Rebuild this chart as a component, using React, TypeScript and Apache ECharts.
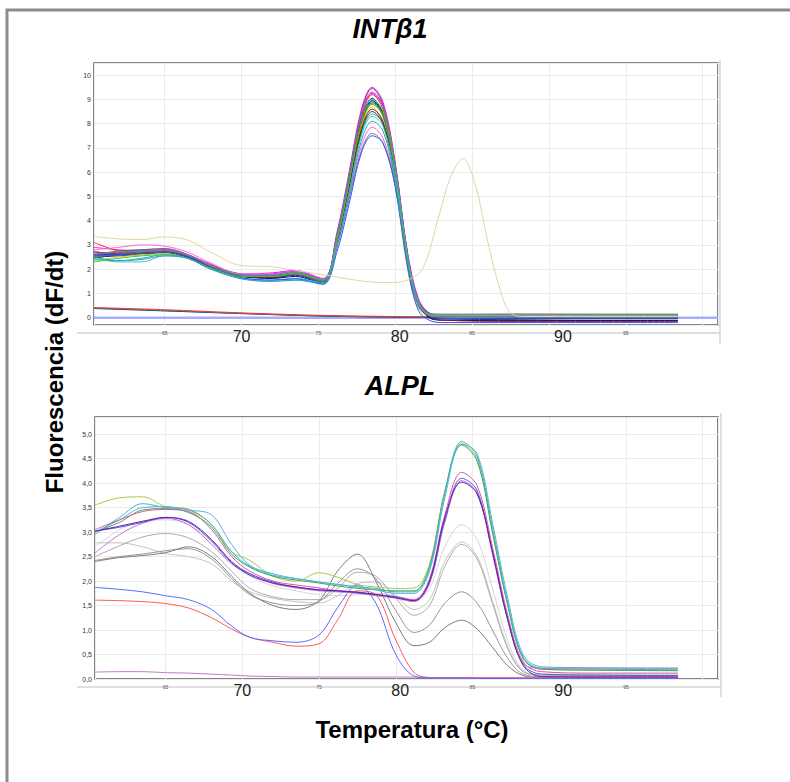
import React, { useEffect, useRef } from 'react';
import * as echarts from 'echarts';

// ---------- INTβ1 panel ----------
const X_TOP = [60.4, 62, 63.5, 65, 66.5, 68, 70, 72, 73.5, 75.3, 76.2, 77, 77.8, 78.5, 79.2, 80, 80.8, 81.5, 82.2, 83, 88, 93, 98.4];

const INT_S01 = [2.75, 2.6, 2.7, 2.75, 2.55, 2.15, 1.75, 1.72, 1.85, 1.55, 3.5, 6.0, 8.6, 9.5, 8.9, 6.4, 2.6, 0.7, 0.2, 0.12, 0.12, 0.1, 0.1];
const INT_S02 = [2.55, 2.7, 2.8, 2.85, 2.6, 2.1, 1.7, 1.8, 1.9, 1.6, 3.4, 5.9, 8.5, 9.45, 8.8, 6.3, 2.6, 0.72, 0.2, 0.1, 0.08, 0.07, 0.07];
const INT_S03 = [2.9, 2.8, 2.75, 2.8, 2.6, 2.2, 1.8, 1.85, 1.95, 1.62, 3.3, 5.8, 8.4, 9.25, 8.7, 6.3, 2.7, 0.8, 0.18, 0.05, 0.02, 0.0, 0.0];
const INT_S04 = [2.5, 2.55, 2.6, 2.68, 2.45, 2.05, 1.7, 1.65, 1.75, 1.45, 3.2, 5.7, 8.2, 9.05, 8.4, 5.9, 2.3, 0.5, 0.05, -0.05, -0.08, -0.1, -0.1];
const INT_S05 = [2.45, 2.6, 2.65, 2.7, 2.5, 2.1, 1.72, 1.62, 1.7, 1.42, 3.0, 5.5, 8.1, 8.95, 8.4, 6.0, 2.4, 0.55, 0.0, -0.1, -0.12, -0.12, -0.12];
const INT_S06 = [2.6, 2.75, 2.8, 2.75, 2.55, 2.15, 1.8, 1.7, 1.8, 1.55, 3.3, 5.7, 8.0, 8.9, 8.4, 6.1, 2.5, 0.6, 0.12, 0.05, 0.05, 0.04, 0.04];
const INT_S07 = [2.55, 2.7, 2.75, 2.8, 2.6, 2.15, 1.78, 1.75, 1.85, 1.6, 3.2, 5.6, 8.0, 8.85, 8.35, 6.1, 2.6, 0.7, 0.18, 0.1, 0.1, 0.1, 0.1];
const INT_S08 = [2.35, 2.5, 2.6, 2.65, 2.45, 2.05, 1.7, 1.7, 1.8, 1.5, 3.1, 5.5, 7.9, 8.7, 8.0, 5.5, 2.0, 0.4, 0.08, 0.05, 0.05, 0.05, 0.05];
const INT_S09 = [2.4, 2.35, 2.45, 2.6, 2.45, 2.0, 1.65, 1.55, 1.62, 1.45, 3.0, 5.3, 7.6, 8.4, 8.0, 5.8, 2.4, 0.6, 0.15, 0.08, 0.08, 0.08, 0.08];
const INT_S10 = [3.1, 2.75, 2.65, 2.7, 2.55, 2.1, 1.7, 1.7, 1.8, 1.48, 3.3, 5.8, 8.3, 9.2, 8.6, 6.2, 2.5, 0.62, 0.15, 0.05, 0.05, 0.05, 0.05];
const INT_S11 = [2.7, 2.65, 2.7, 2.75, 2.55, 2.1, 1.7, 1.65, 1.78, 1.5, 3.0, 5.4, 7.8, 8.6, 8.1, 5.9, 2.4, 0.55, 0.05, -0.1, -0.15, -0.15, -0.15];
const INT_S12 = [2.5, 2.6, 2.7, 2.75, 2.55, 2.15, 1.75, 1.72, 1.85, 1.55, 3.2, 5.6, 8.0, 8.8, 8.3, 6.0, 2.5, 0.65, 0.15, 0.1, 0.12, 0.12, 0.12];
const INT_S13 = [2.6, 2.6, 2.65, 2.7, 2.5, 2.1, 1.72, 1.7, 1.8, 1.5, 3.0, 5.3, 7.7, 8.5, 8.0, 5.8, 2.3, 0.55, 0.1, 0.0, -0.02, -0.02, -0.02];
const INT_S14 = [2.45, 2.3, 2.3, 2.55, 2.45, 2.05, 1.62, 1.5, 1.55, 1.4, 2.9, 5.2, 7.5, 8.3, 7.9, 5.8, 2.4, 0.6, 0.12, 0.05, 0.05, 0.05, 0.05];
const INT_S15 = [2.8, 2.9, 3.0, 2.95, 2.7, 2.25, 1.8, 1.8, 1.9, 1.6, 3.0, 5.0, 7.1, 7.85, 7.4, 5.5, 2.3, 0.6, 0.15, 0.1, 0.1, 0.08, 0.08];
const INT_S16 = [2.65, 2.7, 2.75, 2.8, 2.6, 2.15, 1.75, 1.7, 1.8, 1.5, 2.9, 4.9, 6.9, 7.6, 7.2, 5.4, 2.2, 0.5, 0.1, 0.05, 0.05, 0.05, 0.05];
const INT_S17 = [2.55, 2.6, 2.65, 2.7, 2.5, 2.05, 1.65, 1.55, 1.6, 1.38, 2.7, 4.7, 6.8, 7.5, 7.2, 5.4, 2.1, 0.3, -0.1, -0.2, -0.2, -0.2, -0.2];
const INT_S18 = [2.6, 2.7, 2.75, 2.78, 2.58, 2.12, 1.75, 1.78, 1.9, 1.58, 3.4, 5.9, 8.45, 9.3, 8.75, 6.3, 2.6, 0.7, 0.18, 0.15, 0.15, 0.14, 0.14];
const INT_S19 = [2.3, 2.45, 2.55, 2.6, 2.45, 2.05, 1.7, 1.7, 1.82, 1.55, 3.2, 5.6, 8.1, 9.0, 8.5, 6.1, 2.5, 0.65, 0.15, 0.12, 0.15, 0.15, 0.15];
const INT_S20 = [2.5, 2.35, 2.4, 2.55, 2.45, 2.0, 1.6, 1.5, 1.55, 1.42, 2.9, 5.1, 7.3, 8.1, 7.7, 5.6, 2.3, 0.55, 0.1, 0.02, 0.0, 0.0, 0.0];

const TOP_SERIES = [INT_S01, INT_S02, INT_S03, INT_S04, INT_S05, INT_S06, INT_S07, INT_S08, INT_S09, INT_S10,
  INT_S11, INT_S12, INT_S13, INT_S14, INT_S15, INT_S16, INT_S17, INT_S18, INT_S19, INT_S20];
const TOP_COLORS = ['#e8308a', '#a020c0', '#ff00ff', '#1030e0', '#000080', '#228b22', '#008b8b', '#e0d000', '#20b2aa', '#ff2020',
  '#8b1a1a', '#6b8e23', '#333333', '#3cc8c0', '#ff66cc', '#808080', '#3050ff', '#7b68ee', '#32cd32', '#2f9fd0'];

const TAN_X = [60.4, 62, 63.5, 65, 66.5, 68, 70, 72, 74, 76, 78, 79.5, 80.8, 81.8, 82.8, 83.6, 84.4, 85.2, 86, 86.8, 87.5, 88.5, 93, 98.4];
const TAN_Y = [3.35, 3.25, 3.22, 3.33, 3.2, 2.7, 2.15, 2.1, 1.9, 1.7, 1.5, 1.45, 1.55, 2.05, 4.1, 5.8, 6.55, 5.5, 3.2, 1.2, 0.2, 0.05, 0.05, 0.05];

const LOW_X = [60.4, 65, 70, 75, 80, 85, 90, 95, 98.4];
const LOW_RED = [0.42, 0.33, 0.2, 0.1, 0.05, 0.03, 0.02, 0.02, 0.02];
const LOW_NAVY = [0.38, 0.28, 0.17, 0.07, 0.02, 0.0, -0.02, -0.02, -0.02];
const LOW_GREEN = [0.4, 0.3, 0.18, 0.08, 0.03, 0.01, 0.0, 0.0, 0.0];

const FLAT_X = [60.4, 101];
const FLAT_Y = [0.0, 0.0];

// ---------- ALPL panel ----------
const X_BOT = [60.4, 62, 63.5, 65, 66.5, 68, 69.3, 70.5, 72, 73.5, 75, 76.2, 77.5, 78.7, 80, 81.2, 82.2, 83.2, 84.3, 85.3, 86.3, 87.3, 88.3, 89.5, 93, 98.4];

const ALPL_GA = [2.4, 2.48, 2.52, 2.58, 2.7, 2.5, 2.1, 1.75, 1.5, 1.42, 1.6, 2.2, 2.55, 2.0, 1.15, 0.68, 0.75, 1.05, 1.2, 1.02, 0.65, 0.27, 0.07, 0.03, 0.03, 0.03];
const ALPL_GB = [2.42, 2.5, 2.55, 2.62, 2.66, 2.45, 2.05, 1.72, 1.55, 1.5, 1.58, 1.95, 2.25, 2.05, 1.4, 0.95, 1.1, 1.55, 1.78, 1.55, 1.0, 0.42, 0.1, 0.05, 0.05, 0.05];
const ALPL_GC = [2.5, 2.72, 2.9, 2.97, 2.88, 2.6, 2.2, 1.85, 1.68, 1.62, 1.62, 1.85, 2.18, 2.1, 1.65, 1.3, 1.5, 2.3, 2.75, 2.45, 1.55, 0.62, 0.15, 0.08, 0.07, 0.07];
const ALPL_GD = [2.78, 2.78, 2.7, 2.56, 2.5, 2.35, 2.0, 1.78, 1.65, 1.58, 1.55, 1.7, 1.95, 1.98, 1.7, 1.42, 1.62, 2.4, 2.8, 2.5, 1.6, 0.66, 0.16, 0.08, 0.08, 0.08];
const ALPL_GE = [2.7, 3.05, 3.22, 3.25, 3.15, 2.8, 2.35, 2.1, 1.9, 1.8, 1.72, 1.7, 1.72, 1.75, 1.7, 1.6, 1.85, 2.7, 3.15, 2.85, 1.85, 0.78, 0.18, 0.1, 0.1, 0.1];
const ALPL_RED = [1.61, 1.6, 1.58, 1.54, 1.45, 1.25, 1.02, 0.85, 0.75, 0.67, 0.72, 1.2, 1.8, 1.72, 0.8, 0.13, 0.03, 0.02, 0.02, 0.02, 0.02, 0.02, 0.02, 0.02, 0.02, 0.02];
const ALPL_BLUE = [1.87, 1.83, 1.78, 1.7, 1.62, 1.42, 1.08, 0.85, 0.78, 0.75, 0.9, 1.45, 1.92, 1.55, 0.5, 0.06, 0.02, 0.02, 0.02, 0.01, 0.01, 0.01, 0.01, 0.01, 0.01, 0.01];
const ALPL_LOW = [0.14, 0.15, 0.15, 0.13, 0.12, 0.1, 0.08, 0.06, 0.05, 0.04, 0.04, 0.04, 0.04, 0.04, 0.04, 0.04, 0.03, 0.03, 0.03, 0.03, 0.03, 0.03, 0.03, 0.03, 0.03, 0.03];
const ALPL_YG = [3.55, 3.7, 3.72, 3.52, 3.47, 3.15, 2.6, 2.42, 2.1, 2.0, 2.17, 2.08, 1.93, 1.88, 1.85, 1.86, 2.35, 3.85, 4.8, 4.5, 3.0, 1.5, 0.42, 0.2, 0.18, 0.17];
const ALPL_TEAL = [2.95, 3.3, 3.58, 3.5, 3.45, 3.15, 2.6, 2.3, 2.12, 2.05, 1.98, 1.93, 1.88, 1.85, 1.78, 1.78, 2.25, 3.8, 4.85, 4.55, 3.1, 1.55, 0.45, 0.22, 0.2, 0.19];
const ALPL_SKY = [3.0, 3.25, 3.5, 3.52, 3.45, 3.35, 2.75, 2.32, 2.15, 2.05, 1.98, 1.93, 1.88, 1.82, 1.75, 1.75, 2.2, 3.7, 4.8, 4.6, 3.2, 1.65, 0.5, 0.25, 0.23, 0.22];
const ALPL_GREEN = [3.0, 3.2, 3.45, 3.48, 3.4, 3.1, 2.55, 2.28, 2.1, 2.02, 1.96, 1.9, 1.85, 1.82, 1.8, 1.8, 2.3, 3.82, 4.78, 4.45, 3.0, 1.5, 0.42, 0.2, 0.18, 0.17];
const ALPL_PINK = [3.05, 3.25, 3.42, 3.46, 3.42, 3.05, 2.5, 2.2, 2.0, 1.92, 1.86, 1.8, 1.78, 1.72, 1.68, 1.62, 2.05, 3.35, 4.22, 3.95, 2.7, 1.3, 0.35, 0.15, 0.12, 0.12];
const ALPL_BLUE2 = [3.02, 3.1, 3.2, 3.3, 3.22, 2.85, 2.4, 2.15, 1.98, 1.88, 1.82, 1.8, 1.76, 1.72, 1.68, 1.6, 1.98, 3.25, 4.1, 3.85, 2.6, 1.2, 0.3, 0.1, 0.08, 0.07];
const ALPL_VIOLET = [2.57, 2.95, 3.18, 3.28, 3.15, 2.75, 2.35, 2.15, 1.95, 1.86, 1.8, 1.78, 1.75, 1.7, 1.65, 1.58, 1.95, 3.2, 4.05, 3.8, 2.55, 1.2, 0.32, 0.22, 0.22, 0.22];
const ALPL_PURPLE = [3.02, 3.12, 3.22, 3.3, 3.2, 2.82, 2.38, 2.12, 1.96, 1.88, 1.82, 1.8, 1.77, 1.73, 1.66, 1.6, 2.0, 3.3, 4.02, 3.78, 2.6, 1.22, 0.28, 0.05, 0.04, 0.04];

const BOT_SERIES = [ALPL_GE, ALPL_GD, ALPL_GC, ALPL_GB, ALPL_GA, ALPL_LOW, ALPL_RED, ALPL_BLUE,
  ALPL_YG, ALPL_GREEN, ALPL_TEAL, ALPL_SKY, ALPL_PINK, ALPL_VIOLET, ALPL_BLUE2, ALPL_PURPLE];
const BOT_COLORS = ['#d6d6d6', '#c2c2c2', '#ababab', '#959595', '#7c7c7c', '#c07cc8', '#ff5a5a', '#5a6cff',
  '#a8c84a', '#3aa860', '#3cb8b8', '#5aaedc', '#e0559a', '#c070d8', '#4a5ee0', '#6a1aa8'];

const X_TICKS_BIG = [70, 80, 90];
const TOP_TITLE = 'INTβ1';
const BOT_TITLE = 'ALPL';
const Y_LABEL = 'Fluorescencia (dF/dt)';
const X_LABEL = 'Temperatura (°C)';

const zip = (xs: number[], ys: number[]) => xs.map((x, i) => [x, ys[i]]);

const xLabelFmt = (v: number) => {
  const r = Math.round(v);
  if (Math.abs(v - r) > 1e-6 || r % 5 !== 0 || r === 100) return '';
  if (r === 80) return `{big80|${r}}`;
  if (r === 90) return `{big90|${r}}`;
  if (X_TICKS_BIG.includes(r)) return `{big|${r}}`;
  return `{small|${r}}`;
};

const makeXAxis = (gridIndex: number) => ({
  type: 'value',
  gridIndex,
  min: 60.4,
  max: 101,
  minInterval: 5,
  maxInterval: 5,
  axisLine: { show: false },
  axisTick: { show: false },
  splitLine: { show: true, lineStyle: { color: '#ebebeb', width: 1 } },
  axisLabel: {
    margin: 5,
    showMinLabel: false,
    showMaxLabel: false,
    formatter: xLabelFmt,
    rich: {
      small: { fontSize: 5, color: '#555', fontFamily: 'Liberation Sans' },
      big: { fontSize: 16, color: '#222', fontFamily: 'Liberation Sans', padding: [-2, 0, 0, 0] },
      big80: { fontSize: 16, color: '#222', fontFamily: 'Liberation Sans', padding: [-2, 0, 0, 9] },
      big90: { fontSize: 16, color: '#222', fontFamily: 'Liberation Sans', padding: [-2, 0, 0, 28] },
    },
  },
});

export default function App() {
  const ref = useRef<HTMLDivElement>(null);
  useEffect(() => {
    if (!ref.current) return;
    const chart = echarts.init(ref.current, null, { renderer: 'svg' });
    const series: any[] = [];
    series.push({ type: 'line', xAxisIndex: 0, yAxisIndex: 0, data: zip(FLAT_X, FLAT_Y), showSymbol: false,
      lineStyle: { width: 2.5, color: '#a8acff' }, silent: true });
    [[LOW_NAVY, '#1a1a90'], [LOW_GREEN, '#3a8a5a'], [LOW_RED, '#ff3030']].forEach(([ys, c]: any) => {
      series.push({ type: 'line', xAxisIndex: 0, yAxisIndex: 0, data: zip(LOW_X, ys), showSymbol: false, smooth: 0.3,
        lineStyle: { width: 1, color: c }, silent: true });
    });
    TOP_SERIES.forEach((ys, i) => {
      series.push({
        type: 'line', xAxisIndex: 0, yAxisIndex: 0, data: zip(X_TOP, ys), showSymbol: false,
        smooth: 0.35, lineStyle: { width: 1, color: TOP_COLORS[i] }, itemStyle: { color: TOP_COLORS[i] }, silent: true,
      });
    });
    series.push({ type: 'line', xAxisIndex: 0, yAxisIndex: 0, data: zip(TAN_X, TAN_Y), showSymbol: false, smooth: 0.35,
      lineStyle: { width: 1, color: '#e8d2a4' }, silent: true });

    BOT_SERIES.forEach((ys, i) => {
      series.push({
        type: 'line', xAxisIndex: 1, yAxisIndex: 1, data: zip(X_BOT, ys), showSymbol: false,
        smooth: 0.35, lineStyle: { width: 1, color: BOT_COLORS[i] }, silent: true,
      });
    });

    const titleStyle = { fontFamily: 'Liberation Sans', fontWeight: 'bold', fontStyle: 'italic', fontSize: 27, fill: '#000', align: 'center', verticalAlign: 'middle' };
    chart.setOption({
      animation: false,
      backgroundColor: '#fff',
      grid: [
        { left: 94, top: 63, width: 624, height: 262, show: true, borderColor: '#5c5c5c', borderWidth: 1.5, backgroundColor: '#fff' },
        { left: 95, top: 417, width: 623, height: 262, show: true, borderColor: '#5c5c5c', borderWidth: 1.5, backgroundColor: '#fff' },
      ],
      xAxis: [makeXAxis(0), makeXAxis(1)],
      yAxis: [
        {
          type: 'value', gridIndex: 0, min: -0.3, max: 10.5, minInterval: 1, maxInterval: 1,
          axisLine: { show: false }, axisTick: { show: false },
          splitLine: { lineStyle: { color: '#ebebeb' } },
          axisLabel: {
            fontSize: 7, color: '#333', margin: 3, fontFamily: 'Liberation Sans', showMinLabel: false, showMaxLabel: false,
            formatter: (v: number) => (Math.abs(v - Math.round(v)) < 1e-6 ? String(Math.round(v)) : ''),
          },
        },
        {
          type: 'value', gridIndex: 1, min: 0, max: 5.35, interval: 0.5,
          axisLine: { show: false }, axisTick: { show: false },
          splitLine: { lineStyle: { color: '#ebebeb' } },
          axisLabel: {
            fontSize: 7, color: '#333', margin: 3, fontFamily: 'Liberation Sans', showMaxLabel: false,
            formatter: (v: number) => (v > 5.01 ? '' : v.toFixed(1).replace('.', ',')),
          },
        },
      ],
      graphic: [
        { type: 'rect', shape: { x: 7, y: 10, width: 820, height: 820 }, style: { fill: 'none', stroke: '#8c8c8c', lineWidth: 3 }, z: 0, silent: true },
        { type: 'line', shape: { x1: 77, y1: 333, x2: 720, y2: 333 }, style: { stroke: '#d4d4d4', lineWidth: 1.5 }, z: -1, silent: true },
        { type: 'line', shape: { x1: 720, y1: 60, x2: 720, y2: 344 }, style: { stroke: '#d4d4d4', lineWidth: 1.5 }, z: -1, silent: true },
        { type: 'line', shape: { x1: 77, y1: 687, x2: 721, y2: 687 }, style: { stroke: '#d4d4d4', lineWidth: 1.5 }, z: -1, silent: true },
        { type: 'line', shape: { x1: 721, y1: 413, x2: 721, y2: 697 }, style: { stroke: '#d4d4d4', lineWidth: 1.5 }, z: -1, silent: true },
        { type: 'text', x: 390, y: 29, style: { ...titleStyle, text: TOP_TITLE } },
        { type: 'text', x: 400, y: 386, style: { ...titleStyle, text: BOT_TITLE } },
        { type: 'text', x: 54, y: 372, rotation: Math.PI / 2,
          style: { text: Y_LABEL, fontFamily: 'Liberation Sans', fontWeight: 'bold', fontSize: 24, fill: '#000', align: 'center', verticalAlign: 'middle' } },
        { type: 'text', x: 412, y: 729,
          style: { text: X_LABEL, fontFamily: 'Liberation Sans', fontWeight: 'bold', fontSize: 24, fill: '#000', align: 'center', verticalAlign: 'middle' } },
      ],
      series,
    });
    return () => chart.dispose();
  }, []);
  return <div ref={ref} style={{ position: 'fixed', left: 0, top: 0, width: 790, height: 782 }} />;
}
